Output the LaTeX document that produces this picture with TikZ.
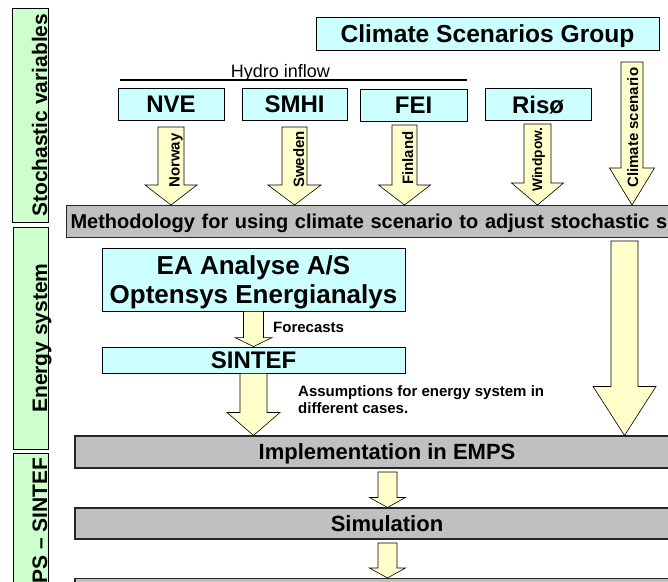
\documentclass[tikz,border=0pt]{standalone}
\usepackage{fontspec}
\setmainfont{Liberation Sans}
\usetikzlibrary{calc}
\definecolor{cyanfill}{HTML}{CCFFFF}
\definecolor{yelfill}{HTML}{FFFFCC}
\definecolor{grnfill}{HTML}{CCFFCC}
\definecolor{grayfill}{HTML}{C0C0C0}
\newcommand{\fsz}[2]{\fontsize{#1}{#2}\selectfont}
% #1 start, #2 tip, #3 shaft half width, #4 head half width, #5 head length
\newcommand{\blockarr}[5]{%
  \path[blockarrow] let \p1=(#1), \p2=(#2) in
   (\x1-#3pt,\y1) -- (\x1+#3pt,\y1) -- (\x1+#3pt,\y2+#5pt) -- (\x1+#4pt,\y2+#5pt)
   -- (\x1,\y2) -- (\x1-#4pt,\y2+#5pt) -- (\x1-#3pt,\y2+#5pt) -- cycle;}
\begin{document}
\begin{tikzpicture}[x=1pt,y=-1pt,
  cbox/.style={draw=black, fill=cyanfill, line width=0.8pt, inner sep=0pt, text depth=0pt, font=\bfseries\fsz{24}{28}},
  gbox/.style={draw=black!85, fill=grayfill, line width=1.1pt, inner sep=0pt, text depth=0pt, font=\bfseries\fsz{22}{26}},
  lbox/.style={draw=black, fill=grnfill, line width=0.8pt, inner sep=0pt},
  ltext/.style={rotate=90, anchor=base west, inner sep=0pt, font=\bfseries\fsz{21}{24}},
  atext/.style={rotate=90, anchor=base west, inner sep=0pt, font=\bfseries\fsz{15}{17}},
  note/.style={inner sep=0pt, font=\bfseries\fsz{15}{17}},
  blockarrow/.style={draw=black, fill=yelfill, line width=0.6pt, line join=miter},
  hydroline/.style={line width=2.6pt, line cap=butt}
]
\useasboundingbox (0,0) rectangle (668,581);
\clip (0,0) rectangle (668,581);
\fill[white] (0,0) rectangle (668,581);

% left phase labels
\node[lbox, minimum width=36pt, minimum height=214pt] (stochbox) at (30,115) {};
\node[lbox, minimum width=35pt, minimum height=222pt] (energybox) at (30.5,338) {};
\node[lbox, minimum width=35pt, minimum height=160pt, anchor=north] (empsbox) at (30.5,453) {};
\node[ltext] (stochT) at (47,217) {Stochastic variables};
\node[ltext] (energyT) at (47,413) {Energy system};
\node[ltext] (empsT) at (47,584) {PS – SINTEF};

% top row
\node[cbox, minimum width=343pt, minimum height=33pt, font=\bfseries\fsz{24.6}{28}] (csg) at (487.5,33.5) {Climate Scenarios Group};
\node[cbox, minimum width=106pt, minimum height=32pt] (nve) at (171,104) {NVE};
\node[cbox, minimum width=105pt, minimum height=32pt] (smhi) at (294.5,104) {SMHI};
\node[cbox, minimum width=107pt, minimum height=32pt] (fei) at (413.5,105.5) {FEI};
\node[cbox, minimum width=106pt, minimum height=32.5pt] (riso) at (538,104.5) {Risø};

\coordinate (hl) at (120,80);
\coordinate (hr) at (467,80);
\draw[hydroline] (hl) -- (hr);
\node[inner sep=0pt, anchor=base, font=\fsz{18}{20}] (hydro) at (280.5,77) {Hydro inflow};

% methodology
\node[gbox, anchor=north west, minimum height=32pt, text width=640pt, align=left, inner xsep=4pt, font=\bfseries\fsz{20}{24}] (meth) at (66,205) {Methodology for using climate scenario to adjust stochastic s};

% arrows to methodology
\coordinate (nveA) at (171,127);
\coordinate (smhiA) at (294.5,127);
\coordinate (feiA) at (404.5,125);
\coordinate (risoA) at (537.5,124);
\coordinate (csgA) at (632,62);
\blockarr{nveA}{nveA |- meth.north}{13}{26}{20}
\blockarr{smhiA}{smhiA |- meth.north}{12.5}{26.5}{20}
\blockarr{feiA}{feiA |- meth.north}{12.5}{26}{20}
\blockarr{risoA}{risoA |- meth.north}{13.5}{26}{22}
\blockarr{csgA}{csgA |- meth.north}{11}{22.5}{37}
\node[atext] (norway) at (179.5,188) {Norway};
\node[atext] (sweden) at (304,188) {Sweden};
\node[atext] (finland) at (413,185) {Finland};
\node[atext, font=\bfseries\fsz{13.8}{16}] (windpow) at (542,192) {Windpow.};
\node[atext] (climsc) at (638,188) {Climate scenario};

% energy system
\node[cbox, minimum width=303pt, minimum height=63pt, align=center, font=\bfseries\fsz{26}{29}] (ea) at (253.5,279.5) {EA Analyse A/S\\Optensys Energianalys};
\node[cbox, minimum width=303pt, minimum height=26pt] (sintef) at (253.5,360) {SINTEF};

% EMPS part
\node[gbox, minimum width=624pt, minimum height=32pt] (impl) at (387,452) {Implementation in EMPS};
\node[gbox, minimum width=624pt, minimum height=31pt] (sim) at (387,523.5) {Simulation};
\node[gbox, minimum width=624pt, minimum height=32pt, anchor=north] (last) at (387,578) {};

\blockarr{ea.south}{ea.south |- sintef.north}{10}{18.5}{9}
\node[note, anchor=base west] (forecasts) at (273,332) {Forecasts};
\blockarr{sintef.south}{sintef.south |- impl.north}{13.5}{26.5}{23}
\node[note, anchor=north west, align=left] (assum) at (298,385) {Assumptions for energy system in\\different cases.};

\coordinate (climA) at (624.5,241);
\blockarr{climA}{climA |- impl.north}{13.5}{31.5}{49}

\coordinate (implA) at (387.5,472);
\blockarr{implA}{implA |- sim.north}{9.5}{18}{10}
\coordinate (simA) at (387.5,543);
\blockarr{simA}{simA |- last.north}{9.5}{18}{10}
\end{tikzpicture}
\end{document}
